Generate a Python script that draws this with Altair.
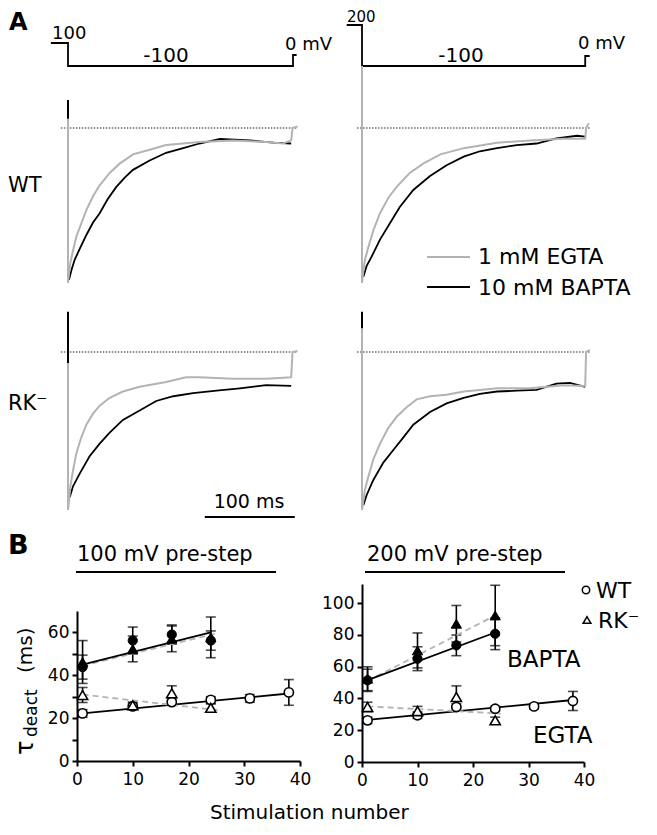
import altair as alt
import pandas as pd

# ---------------- data ----------------
# Panel A: voltage protocols (ms, mV)
PROTO_T_100 = [-19, 0, 0, 250, 250, 254]
PROTO_V_100 = [100, 100, -100, -100, 0, 0]
PROTO_T_200 = [-17, 0, 0, 248, 248, 253]
PROTO_V_200 = [200, 200, -100, -100, 0, 0]

# Panel A: tail currents, time (ms) and current normalised to the peak
WT100_EGTA_T = [0, 0, 1.1, 2.6, 5.6, 9.3, 14.8, 20.4, 27.8, 35.2, 46.3, 57.4, 72.2, 90.7, 109, 146, 183, 220, 239, 248, 249.5, 255]
WT100_EGTA_I = [0.06, -1.0, -0.94, -0.87, -0.79, -0.70, -0.615, -0.53, -0.44, -0.37, -0.29, -0.23, -0.17, -0.14, -0.11, -0.09, -0.08, -0.09, -0.10, -0.08, 0.0, 0.01]
WT100_BAPTA_T = [1.1, 3.7, 7.4, 13, 20.4, 27.8, 35.2, 44, 53.7, 63, 72.2, 90.7, 109, 128, 146, 169, 202, 228, 248]
WT100_BAPTA_I = [-0.98, -0.92, -0.85, -0.78, -0.69, -0.61, -0.55, -0.46, -0.38, -0.32, -0.27, -0.21, -0.16, -0.13, -0.10, -0.07, -0.08, -0.095, -0.10]

RK100_EGTA_T = [0, 0, 1.1, 2.6, 5.6, 9.3, 14.8, 20.4, 27.8, 35.2, 46.3, 61, 79.6, 109, 131, 146, 183, 220, 248, 249.5, 255]
RK100_EGTA_I = [-0.07, -1.0, -0.94, -0.85, -0.75, -0.64, -0.54, -0.46, -0.39, -0.34, -0.29, -0.25, -0.22, -0.19, -0.16, -0.16, -0.17, -0.17, -0.16, 0.0, 0.006]
RK100_BAPTA_T = [1.9, 5.6, 13, 24, 35.2, 46.3, 61, 79.6, 98, 117, 139, 165, 191, 220, 248]
RK100_BAPTA_I = [-0.92, -0.85, -0.77, -0.66, -0.58, -0.51, -0.43, -0.37, -0.31, -0.28, -0.26, -0.245, -0.23, -0.21, -0.215]

WT200_EGTA_T = [0, 0, 1.5, 3.3, 7, 12.6, 20, 29.3, 38.5, 53, 68, 87, 113, 150, 187, 224, 248, 249, 252]
WT200_EGTA_I = [0.40, -1.0, -0.92, -0.85, -0.77, -0.66, -0.55, -0.45, -0.38, -0.29, -0.23, -0.17, -0.13, -0.095, -0.08, -0.07, -0.07, 0.0, 0.03]
WT200_BAPTA_T = [1.5, 5.2, 10.7, 20, 31, 42, 57, 75.6, 94, 113, 131, 150, 172, 194, 216, 239, 248]
WT200_BAPTA_I = [-0.96, -0.89, -0.83, -0.72, -0.615, -0.51, -0.40, -0.31, -0.24, -0.185, -0.15, -0.13, -0.11, -0.10, -0.067, -0.05, -0.055]

RK200_EGTA_T = [0, 0, 1.5, 3.3, 7, 12.6, 20, 29.3, 38.5, 49.6, 60.7, 75.6, 94, 113, 131, 150, 187, 224, 248, 249, 253]
RK200_EGTA_I = [0.15, -1.0, -0.94, -0.87, -0.79, -0.68, -0.58, -0.48, -0.41, -0.35, -0.30, -0.28, -0.27, -0.25, -0.24, -0.23, -0.23, -0.21, -0.215, 0.0, 0.013]
RK200_BAPTA_T = [1.5, 5.2, 12.6, 23.7, 34.8, 46, 57, 75.6, 94, 113, 131, 150, 172, 194, 216, 231, 248]
RK200_BAPTA_I = [-0.97, -0.905, -0.81, -0.70, -0.62, -0.54, -0.46, -0.38, -0.325, -0.29, -0.265, -0.25, -0.245, -0.24, -0.20, -0.195, -0.22]

# capacitive spikes (black) at t = 0, current top/bottom
SPIKE_WT100 = [0.18, 0.06]
SPIKE_RK100 = [0.255, -0.07]
SPIKE_RK200 = [0.255, 0.15]
BASE_T_100 = [-8, 255]
BASE_T_200 = [-5.5, 253]
SCALEBAR_T = [152, 252]   # 100 ms

# Panel B: tau_deact (ms) vs stimulation number
STIM_SHORT = [1, 10, 17, 24]
STIM_LONG = [1, 10, 17, 24, 31, 38]

P100_WT_BAPTA = [43.8, 56.2, 59.0, 56.2]
P100_WT_BAPTA_ERR = [5.6, 6.3, 4.5, 4.5]
P100_RK_BAPTA = [46.2, 52.3, 57.0, 57.7]
P100_RK_BAPTA_ERR = [10, 6, 6, 9.5]
P100_WT_EGTA = [22.2, 25.5, 27.5, 28.5, 29.2, 32.0]
P100_WT_EGTA_ERR = [1.8, 1.5, 1.5, 1.5, 1.8, 6.0]
P100_RK_EGTA = [30.8, 26.0, 31.6, 24.8]
P100_RK_EGTA_ERR = [3.5, 1.5, 3.5, 1.8]
FIT100_WT_BAPTA = ([1, 24], [45, 60])
FIT100_RK_BAPTA = ([1, 25], [44.5, 59.5])
FIT100_WT_EGTA = ([1, 38], [22.2, 31.5])
FIT100_RK_EGTA = ([1, 26], [31, 23.5])

P200_WT_BAPTA = [51.4, 65.0, 73.4, 80.7]
P200_WT_BAPTA_ERR = [7, 7.5, 6.5, 10]
P200_RK_BAPTA = [52.4, 70.2, 87.0, 92.2]
P200_RK_BAPTA_ERR = [7.5, 11, 11.5, 19]
P200_WT_EGTA = [26.2, 29.4, 34.6, 33.5, 35.0, 38.4]
P200_WT_EGTA_ERR = [2, 2, 2, 1.5, 1.5, 6]
P200_RK_EGTA = [34.6, 32.0, 40.9, 26.2]
P200_RK_EGTA_ERR = [3, 3, 7, 2]
FIT200_WT_BAPTA = ([1, 24], [51.5, 81.5])
FIT200_RK_BAPTA = ([1, 25], [51, 94])
FIT200_WT_EGTA = ([1, 38], [26.5, 39])
FIT200_RK_EGTA = ([1, 25], [35, 30.5])

TICKS_X = [0, 10, 20, 30, 40]
TICKS_Y100 = [0, 10, 20, 30, 40, 50, 60]
TICKS_Y200 = [0, 20, 40, 60, 80, 100]

# ---------------- style / layout ----------------
W, H = 641, 819
FONT = "DejaVu Sans"
GRAY = "#b3b3b3"


def sc(domain, rng):
    return alt.Scale(domain=domain, range=rng, nice=False, zero=False)


TL = sc([0, 250], [60, 285])
TR = sc([0, 250], [354, 579])
VL = sc([-100, 0, 100], [58, 47, 35])
VR = sc([-100, 0, 200], [58, 48, 17])
IWT = sc([-1, 0], [275, 120])
IRK = sc([-1, 0], [502, 344])
BXL = sc([0, 40], [69, 292])
BYL = sc([0, 70], [753, 603])
BXR = sc([0, 40], [354, 576])
BYR = sc([0, 112], [754, 576])


def line(xv, yv, xs, ys, color="black", width=1.8, dash=None, xaxis=None, yaxis=None):
    df = pd.DataFrame({"x": xv, "y": yv, "i": list(range(len(xv)))})
    kw = dict(color=color, strokeWidth=width)
    if dash:
        kw["strokeDash"] = dash
    return alt.Chart(df).mark_line(**kw).encode(
        x=alt.X("x:Q", scale=xs, axis=xaxis),
        y=alt.Y("y:Q", scale=ys, axis=yaxis),
        order=alt.Order("i:Q"),
    )


def vrule(t, y0, y1, xs, ys, color="black", width=2):
    df = pd.DataFrame({"x": [t], "y0": [y0], "y1": [y1]})
    return alt.Chart(df).mark_rule(color=color, strokeWidth=width).encode(
        x=alt.X("x:Q", scale=xs, axis=None),
        y=alt.Y("y0:Q", scale=ys, axis=None),
        y2="y1:Q",
    )


def hrule(x0, x1, yv, xs, ys, color="black", width=1.2, dash=None):
    df = pd.DataFrame({"x0": [x0], "x1": [x1], "y": [yv]})
    kw = dict(color=color, strokeWidth=width)
    if dash:
        kw["strokeDash"] = dash
    return alt.Chart(df).mark_rule(**kw).encode(
        x=alt.X("x0:Q", scale=xs, axis=None),
        x2="x1:Q",
        y=alt.Y("y:Q", scale=ys, axis=None),
    )


def label(text, x, y, size, align="left", baseline="alphabetic", weight="normal", angle=None):
    kw = dict(font=FONT, fontSize=size, align=align, baseline=baseline, fontWeight=weight, color="black")
    if angle is not None:
        kw["angle"] = angle
    return alt.Chart(pd.DataFrame({"s": [text]})).mark_text(**kw).encode(
        x=alt.value(x), y=alt.value(y), text="s:N"
    )


def errbars(xv, yv, ev, xs, ys):
    df = pd.DataFrame({"x": xv, "lo": [a - b for a, b in zip(yv, ev)], "hi": [a + b for a, b in zip(yv, ev)]})
    bars = alt.Chart(df).mark_rule(color="black", strokeWidth=1.6).encode(
        x=alt.X("x:Q", scale=xs, axis=None),
        y=alt.Y("lo:Q", scale=ys, axis=None),
        y2="hi:Q",
    )
    caps_df = pd.DataFrame({"x": list(xv) * 2, "y": list(df["lo"]) + list(df["hi"])})
    caps = alt.Chart(caps_df).mark_tick(orient="horizontal", size=10, thickness=1.6, color="black").encode(
        x=alt.X("x:Q", scale=xs, axis=None),
        y=alt.Y("y:Q", scale=ys, axis=None),
    )
    return [bars, caps]


def points(xv, yv, xs, ys, shape, filled):
    df = pd.DataFrame({"x": xv, "y": yv})
    size = 85 if shape == "circle" else 105
    if filled:
        m = alt.Chart(df).mark_point(shape=shape, filled=True, fill="black", stroke="black",
                                     strokeWidth=1, size=size, opacity=1)
    else:
        m = alt.Chart(df).mark_point(shape=shape, filled=True, fill="white", stroke="black",
                                     strokeWidth=1.6, size=size, opacity=1)
    return m.encode(x=alt.X("x:Q", scale=xs, axis=None), y=alt.Y("y:Q", scale=ys, axis=None))


def xaxis(offset):
    return alt.Axis(orient="bottom", offset=offset, values=TICKS_X, tickSize=5, tickWidth=2,
                    domainWidth=2, domainColor="black", tickColor="black", labelFont=FONT,
                    labelFontSize=17, labelColor="black", labelPadding=5, grid=False,
                    title=None, labelFlush=False, labelOverlap=False)


def yaxis(offset, values, step_label):
    return alt.Axis(orient="left", offset=offset, values=values, tickSize=5, tickWidth=2,
                    domainWidth=2, domainColor="black", tickColor="black", labelFont=FONT,
                    labelFontSize=17, labelColor="black", labelPadding=3, grid=False,
                    title=None, labelFlush=False, labelOverlap=False,
                    labelExpr=f"datum.value % {step_label} == 0 ? datum.label : ''")


layers = []

# ---------------- Panel A ----------------
layers.append(label("A", 1, 3, 24, weight="bold", baseline="top"))
# protocols
layers.append(line(PROTO_T_100, PROTO_V_100, TL, VL, width=1.8))
layers.append(line(PROTO_T_200, PROTO_V_200, TR, VR, width=1.8))
layers.append(label("100", 44, 31, 18))
layers.append(label("-100", 158, 54, 20, align="center"))
layers.append(label("0 mV", 277, 42, 18))
layers.append(label("200", 339, 2, 15, baseline="top"))
layers.append(label("-100", 453, 54, 20, align="center"))
layers.append(label("0 mV", 570, 41, 18))

# dotted zero-current baselines
for xs, bt in ((TL, BASE_T_100), (TR, BASE_T_200)):
    for ys in (IWT, IRK):
        layers.append(hrule(bt[0], bt[1], 0, xs, ys, color="#222222", width=1.1, dash=[1.5, 1.5]))

# traces: black first, grey above
layers.append(line(WT100_BAPTA_T, WT100_BAPTA_I, TL, IWT, color="black", width=1.8))
layers.append(line(WT100_EGTA_T, WT100_EGTA_I, TL, IWT, color=GRAY, width=2.0))
layers.append(vrule(0, SPIKE_WT100[0], SPIKE_WT100[1], TL, IWT))

layers.append(line(RK100_BAPTA_T, RK100_BAPTA_I, TL, IRK, color="black", width=1.8))
layers.append(line(RK100_EGTA_T, RK100_EGTA_I, TL, IRK, color=GRAY, width=2.0))
layers.append(vrule(0, SPIKE_RK100[0], SPIKE_RK100[1], TL, IRK))

layers.append(line(WT200_BAPTA_T, WT200_BAPTA_I, TR, IWT, color="black", width=1.8))
layers.append(line(WT200_EGTA_T, WT200_EGTA_I, TR, IWT, color=GRAY, width=2.0))

layers.append(line(RK200_BAPTA_T, RK200_BAPTA_I, TR, IRK, color="black", width=1.8))
layers.append(line(RK200_EGTA_T, RK200_EGTA_I, TR, IRK, color=GRAY, width=2.0))
layers.append(vrule(0, SPIKE_RK200[0], SPIKE_RK200[1], TR, IRK))

layers.append(label("WT", 0, 184, 21))
layers.append(label("RK⁻", 0, 402, 21))

# trace legend
leg = pd.DataFrame({"c": ["g"]})
layers.append(alt.Chart(leg).mark_rule(color=GRAY, strokeWidth=2).encode(
    x=alt.value(419), x2=alt.value(462), y=alt.value(249)))
layers.append(alt.Chart(leg).mark_rule(color="black", strokeWidth=2).encode(
    x=alt.value(419), x2=alt.value(462), y=alt.value(279)))
layers.append(label("1 mM EGTA", 470, 256, 22))
layers.append(label("10 mM BAPTA", 470, 287, 22))

# scale bar
layers.append(alt.Chart(pd.DataFrame({"x0": [SCALEBAR_T[0]], "x1": [SCALEBAR_T[1]]})).mark_rule(
    color="black", strokeWidth=2).encode(
    x=alt.X("x0:Q", scale=TL, axis=None), x2="x1:Q", y=alt.value(509)))
layers.append(label("100 ms", 241, 500, 19, align="center"))

# ---------------- Panel B ----------------
layers.append(label("B", 0, 546, 27, weight="bold"))
layers.append(label("100 mV pre-step", 69, 553, 21))
layers.append(label("200 mV pre-step", 359, 553, 21))
ul = pd.DataFrame({"c": ["u"]})
layers.append(alt.Chart(ul).mark_rule(color="black", strokeWidth=2).encode(
    x=alt.value(68), x2=alt.value(268), y=alt.value(564)))
layers.append(alt.Chart(ul).mark_rule(color="black", strokeWidth=2).encode(
    x=alt.value(357), x2=alt.value(557), y=alt.value(564)))


def bpanel(xs, ys, xoff, yoff, yticks, ystep, wt_b, wt_be, rk_b, rk_be, wt_e, wt_ee, rk_e, rk_ee,
           f_wt_b, f_rk_b, f_wt_e, f_rk_e):
    out = []
    # axes carried by the first fit line
    out.append(line(f_wt_e[0], f_wt_e[1], xs, ys, color="black", width=1.8,
                    xaxis=xaxis(xoff), yaxis=yaxis(yoff, yticks, ystep)))
    out += errbars(STIM_SHORT, rk_e, rk_ee, xs, ys)
    out += errbars(STIM_LONG, wt_e, wt_ee, xs, ys)
    out += errbars(STIM_SHORT, rk_b, rk_be, xs, ys)
    out += errbars(STIM_SHORT, wt_b, wt_be, xs, ys)
    out.append(line(f_rk_e[0], f_rk_e[1], xs, ys, color=GRAY, width=1.8, dash=[6, 4]))
    out.append(line(f_rk_b[0], f_rk_b[1], xs, ys, color=GRAY, width=1.8, dash=[6, 4]))
    out.append(line(f_wt_b[0], f_wt_b[1], xs, ys, color="black", width=1.8))
    out.append(points(STIM_LONG, wt_e, xs, ys, "circle", False))
    out.append(points(STIM_SHORT, rk_e, xs, ys, "triangle-up", False))
    out.append(points(STIM_SHORT, rk_b, xs, ys, "triangle-up", True))
    out.append(points(STIM_SHORT, wt_b, xs, ys, "circle", True))
    return out


layers += bpanel(BXL, BYL, 753 - H, -69, TICKS_Y100, 20,
                 P100_WT_BAPTA, P100_WT_BAPTA_ERR, P100_RK_BAPTA, P100_RK_BAPTA_ERR,
                 P100_WT_EGTA, P100_WT_EGTA_ERR, P100_RK_EGTA, P100_RK_EGTA_ERR,
                 FIT100_WT_BAPTA, FIT100_RK_BAPTA, FIT100_WT_EGTA, FIT100_RK_EGTA)
layers += bpanel(BXR, BYR, 754 - H, -354, TICKS_Y200, 20,
                 P200_WT_BAPTA, P200_WT_BAPTA_ERR, P200_RK_BAPTA, P200_RK_BAPTA_ERR,
                 P200_WT_EGTA, P200_WT_EGTA_ERR, P200_RK_EGTA, P200_RK_EGTA_ERR,
                 FIT200_WT_BAPTA, FIT200_RK_BAPTA, FIT200_WT_EGTA, FIT200_RK_EGTA)

layers.append(label("BAPTA", 499, 659, 23))
layers.append(label("EGTA", 525, 735, 23))

# symbol legend
sym = pd.DataFrame({"c": ["s"]})
layers.append(alt.Chart(sym).mark_point(shape="circle", filled=True, fill="white", stroke="black",
                                        strokeWidth=1.5, size=55, opacity=1).encode(
    x=alt.value(578), y=alt.value(582)))
layers.append(alt.Chart(sym).mark_point(shape="triangle-up", filled=True, fill="white", stroke="black",
                                        strokeWidth=1.5, size=60, opacity=1).encode(
    x=alt.value(579), y=alt.value(612)))
layers.append(label("WT", 588, 590, 22))
layers.append(label("RK⁻", 590, 620, 22))

# axis titles
layers.append(label("Stimulation number", 202, 811, 20))
layers.append(label("τ", 25, 747, 24, angle=270))
layers.append(label("deact", 29, 729, 17, angle=270))
layers.append(label("(ms)", 24, 665, 20, angle=270))

chart = alt.layer(*layers).resolve_scale(x="independent", y="independent").resolve_axis(
    x="independent", y="independent"
).properties(
    width=W, height=H, autosize=alt.AutoSizeParams(type="none"), padding=0, background="white"
).configure_view(stroke=None)

chart.save("out.html", embed_options={"renderer": "svg", "actions": False})
